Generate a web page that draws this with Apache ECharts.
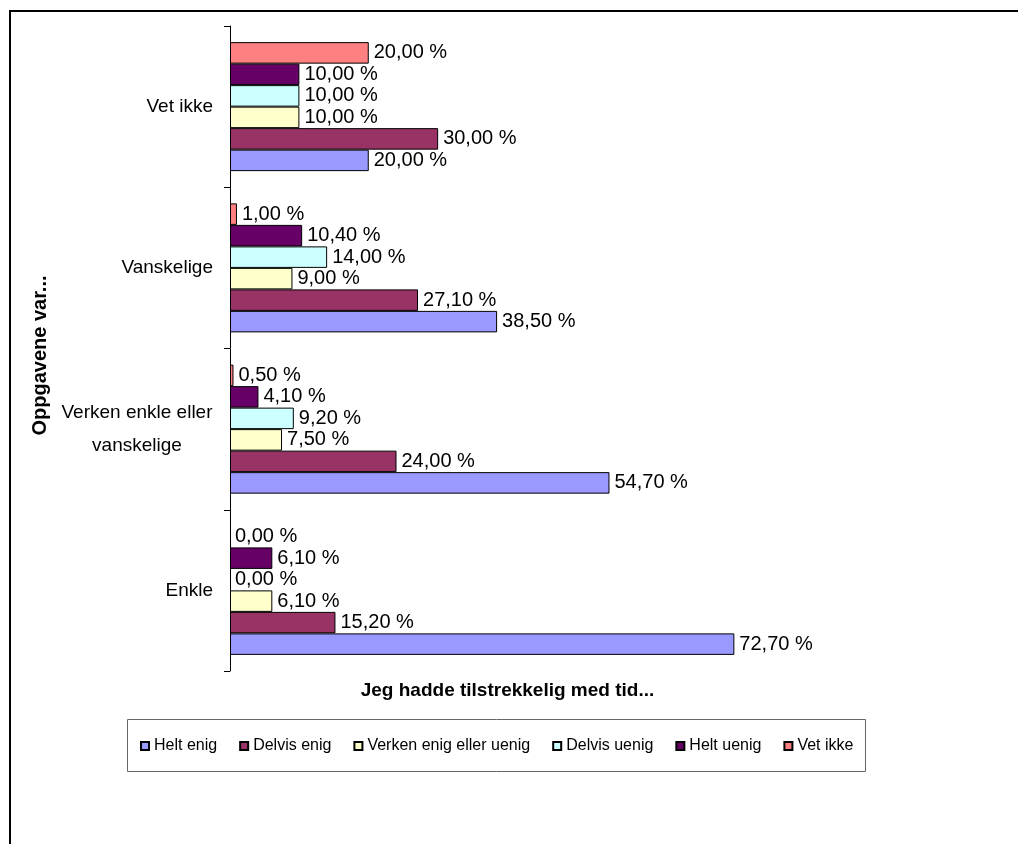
<!DOCTYPE html>
<html>
<head>
<meta charset="utf-8">
<script src="https://cdn.jsdelivr.net/npm/echarts@6/dist/echarts.min.js"></script>
<style>
  html, body { margin: 0; padding: 0; background: #ffffff; }
  #chartBar { width: 1018px; height: 844px; }
</style>
</head>
<body>
<div id="chartBar"></div>
<script>
// kategorier (nederst til øverst)
const categories = ['Enkle', 'Verken enkle eller vanskelige', 'Vanskelige', 'Vet ikke'];

// verdier i prosent per svaralternativ
const heltEnig = [72.7, 54.7, 38.5, 20.0];
const delvisEnig = [15.2, 24.0, 27.1, 30.0];
const verkenEnig = [6.1, 7.5, 9.0, 10.0];
const delvisUenig = [0.0, 9.2, 14.0, 10.0];
const heltUenig = [6.1, 4.1, 10.4, 10.0];
const vetIkke = [0.0, 0.5, 1.0, 20.0];

const seriesNames = ['Helt enig', 'Delvis enig', 'Verken enig eller uenig', 'Delvis uenig', 'Helt uenig', 'Vet ikke'];
const seriesData = [heltEnig, delvisEnig, verkenEnig, delvisUenig, heltUenig, vetIkke];
const colors = ['#9999FF', '#993366', '#FFFFCC', '#CCFFFF', '#660066', '#FF8080'];

const font = "'Liberation Sans', Arial, sans-serif";

// echarts legger første serie øverst i gruppen, så rekkefølgen snus
const series = seriesNames.map((name, i) => ({
  name: name,
  type: 'bar',
  // nullverdier uten kantlinje
  data: seriesData[i].map((v) => (v === 0 ? { value: v, itemStyle: { borderWidth: 0 } } : v)),
  barGap: '0%',
  barCategoryGap: '20%',
  itemStyle: {
    color: colors[i],
    borderColor: '#000000',
    borderWidth: 1,
  },
  label: {
    show: true,
    position: 'right',
    distance: 5,
    color: '#000000',
    fontSize: 20,
    fontFamily: font,
    formatter: (p) => p.value.toFixed(2).replace('.', ',') + ' %',
  },
})).reverse();

const option = {
  animation: false,
  backgroundColor: '#ffffff',
  grid: {
    left: 230,
    right: 233,
    top: 26,
    bottom: 173,
  },
  xAxis: {
    type: 'value',
    min: 0,
    max: 80,
    axisLine: { show: false },
    axisTick: { show: false },
    axisLabel: { show: false },
    splitLine: { show: false },
    name: 'Jeg hadde tilstrekkelig med tid...',
    nameLocation: 'middle',
    nameGap: 10,
    nameTextStyle: {
      color: '#000000',
      fontWeight: 'bold',
      fontSize: 19,
      fontFamily: font,
      verticalAlign: 'top',
    },
  },
  yAxis: {
    type: 'category',
    data: categories,
    axisLine: { show: true, lineStyle: { color: '#000000', width: 1 } },
    axisTick: { show: true, length: 6, lineStyle: { color: '#000000' } },
    axisLabel: {
      color: '#000000',
      fontSize: 19,
      fontFamily: font,
      margin: 17,
      formatter: (v) => v === 'Verken enkle eller vanskelige'
        ? '{c|Verken enkle eller}\n{c|vanskelige}'
        : v,
      rich: {
        c: { width: 152, align: 'center', fontSize: 19, fontFamily: font, color: '#000000', lineHeight: 33 },
      },
    },
    name: 'Oppgavene var...',
    nameLocation: 'middle',
    nameGap: 180,
    nameTextStyle: {
      color: '#000000',
      fontWeight: 'bold',
      fontSize: 20,
      fontFamily: font,
      padding: [0, 14, 0, 0],
    },
  },
  legend: {
    data: seriesNames,
    left: 140,
    top: 738,
    padding: 0,
    itemWidth: 8,
    itemHeight: 8,
    itemGap: 22,
    icon: 'rect',
    textStyle: { color: '#000000', fontSize: 16, fontFamily: font },
  },
  graphic: [
    {
      type: 'rect',
      shape: { x: 10, y: 11, width: 1030, height: 860 },
      style: { fill: null, stroke: '#000000', lineWidth: 2 },
      silent: true,
    },
    {
      type: 'rect',
      shape: { x: 127.5, y: 719.5, width: 738, height: 52 },
      style: { fill: null, stroke: '#666666', lineWidth: 1 },
      silent: true,
    },
  ],
  series: series,
};

const myChart = echarts.init(document.getElementById('chartBar'));
myChart.setOption(option);
window.addEventListener('resize', () => {
  myChart.resize();
});
</script>
</body>
</html>
